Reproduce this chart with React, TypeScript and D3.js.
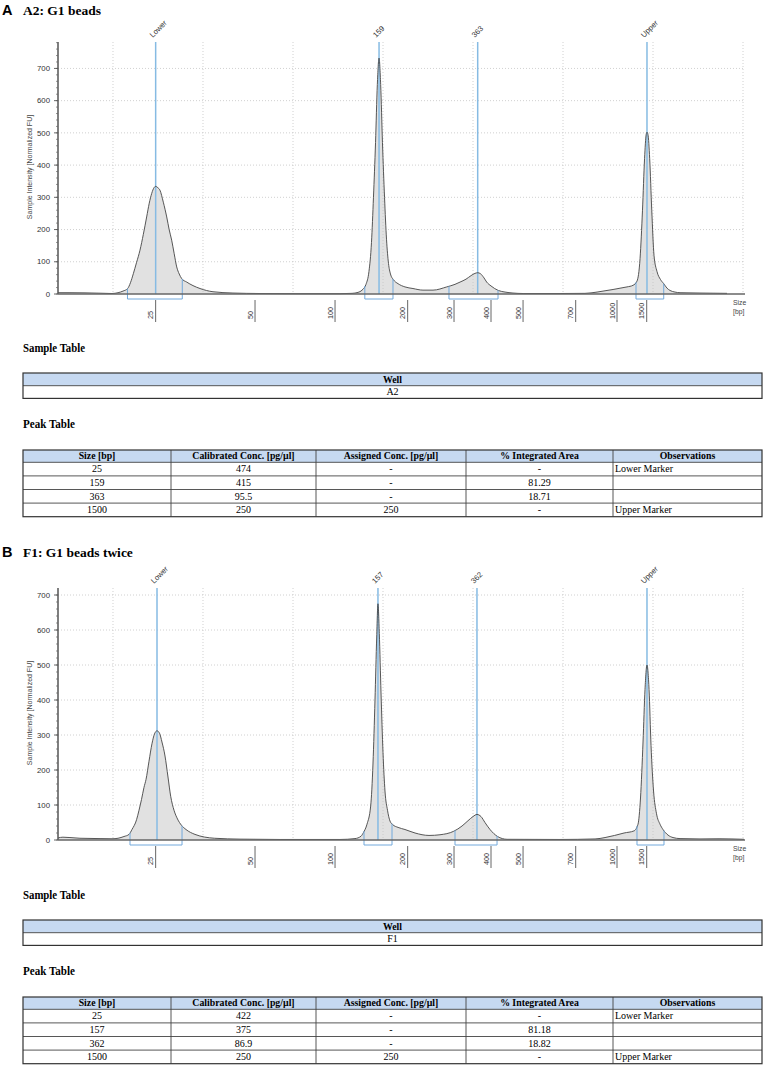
import React from 'react';
import * as d3 from 'd3';

type Pt = [number, number]; // [migration time (s), sample intensity (FU)]

// size ladder: bp and the migration time it sits at
const ladderBp = [25, 50, 100, 200, 300, 400, 500, 700, 1000, 1500];
const ladderTime = [24.74, 35.78, 44.67, 52.74, 57.89, 62.0, 65.56, 71.41, 76.0, 79.3];

const fuTicks = [0, 100, 200, 300, 400, 500, 600, 700];
const gridTimes = [20, 30, 40, 50, 60, 70, 80, 90];

// ---- A2: G1 beads ----
const traceA: Pt[] = [
  [13.89, 4], [15.22, 4], [16.89, 3.5], [18.56, 2.5], [19.89, 1.5], [20.56, 4], [21.11, 9],
  [21.63, 17], [21.94, 35], [22.26, 63], [22.61, 97], [23.0, 136], [23.37, 185], [23.74, 239],
  [24.03, 282], [24.3, 312], [24.56, 330], [24.74, 334], [24.98, 330], [25.22, 322], [25.59, 285],
  [25.97, 239], [26.24, 200], [26.52, 167], [26.8, 125], [27.08, 84], [27.36, 62], [27.63, 48],
  [28.19, 37], [28.89, 26], [29.67, 17], [31.11, 7], [33.33, 3], [36.33, 1.5], [40.78, 1],
  [45.22, 1], [46.56, 2], [47.22, 5], [47.67, 12], [48.11, 30], [48.44, 70], [48.72, 160],
  [48.94, 300], [49.17, 470], [49.37, 650], [49.56, 732], [49.74, 650], [49.94, 470], [50.17, 300],
  [50.39, 170], [50.61, 95], [50.83, 62], [51.14, 45], [51.67, 32], [52.44, 22], [53.33, 17],
  [54.44, 12], [55.56, 12], [57.08, 22], [58.0, 30], [58.56, 37], [59.22, 46], [59.78, 57],
  [60.22, 64], [60.52, 66], [60.83, 63], [61.22, 50], [61.52, 37], [62.0, 25], [62.81, 11],
  [63.56, 6], [64.44, 3], [65.56, 1.5], [69.67, 1.5], [72.44, 2], [73.78, 6], [74.67, 10],
  [75.56, 14], [76.33, 18], [77.11, 22], [77.78, 27], [78.22, 40], [78.56, 110], [78.83, 260],
  [79.06, 420], [79.24, 495], [79.33, 502], [79.44, 495], [79.63, 420], [79.86, 260], [80.11, 120],
  [80.44, 70], [80.83, 45], [81.19, 32], [81.56, 18], [81.89, 11], [82.44, 6], [83.0, 4],
  [85.22, 3], [88.22, 2],
];
const peakLabelsA = ['Lower', '159', '363', 'Upper'];
const peakTimesA = [24.74, 49.56, 60.52, 79.33];
const peakWindowsA: [number, number][] = [[21.61, 27.7], [47.98, 51.11], [57.33, 62.78], [78.11, 81.19]];
const wellA = ['A2'];
const sizeA = ['25', '159', '363', '1500'];
const calConcA = ['474', '415', '95.5', '250'];
const assignedA = ['-', '-', '-', '250'];
const areaA = ['-', '81.29', '18.71', '-'];
const obsA = ['Lower Marker', '', '', 'Upper Marker'];

// ---- F1: G1 beads twice ----
const traceB: Pt[] = [
  [13.89, 6], [14.44, 8], [15.22, 7], [16.33, 5], [18.56, 4], [19.89, 3.5], [20.56, 5], [21.22, 10],
  [21.78, 16], [22.11, 30], [22.62, 58], [22.89, 85], [23.17, 116], [23.44, 150], [23.67, 173],
  [24.0, 225], [24.33, 275], [24.61, 303], [24.89, 312], [25.17, 305], [25.44, 280], [25.78, 240],
  [26.11, 180], [26.41, 125], [26.78, 85], [27.17, 60], [27.61, 42], [28.11, 30], [29.11, 16],
  [31.29, 5], [34.11, 2.5], [38.56, 1.5], [45.22, 1.5], [46.89, 4], [47.56, 11], [47.82, 21],
  [48.22, 45], [48.63, 97], [48.89, 220], [49.11, 400], [49.3, 580], [49.44, 675], [49.59, 590],
  [49.78, 420], [50.0, 250], [50.22, 140], [50.5, 85], [50.78, 54], [51.08, 44], [51.67, 36],
  [52.44, 30], [53.56, 20], [55.11, 13], [56.33, 15], [57.86, 25], [58.78, 40], [59.44, 55],
  [60.0, 67], [60.44, 73], [60.89, 67], [61.33, 50], [61.89, 30], [62.73, 10], [63.78, 2],
  [69.67, 1.5], [73.56, 3], [74.67, 7], [75.73, 13], [76.78, 20], [77.89, 26], [78.33, 45],
  [78.61, 120], [78.89, 280], [79.11, 430], [79.33, 500], [79.56, 430], [79.78, 270], [80.06, 140],
  [80.39, 75], [80.78, 45], [81.11, 30], [81.67, 14], [82.22, 7], [83.0, 4], [85.22, 3],
  [87.44, 3.5], [90.11, 2],
];
const peakLabelsB = ['Lower', '157', '362', 'Upper'];
const peakTimesB = [24.89, 49.44, 60.44, 79.33];
const peakWindowsB: [number, number][] = [[21.89, 27.67], [47.89, 51.0], [58.0, 62.67], [78.22, 81.22]];
const wellB = ['F1'];
const sizeB = ['25', '157', '362', '1500'];
const calConcB = ['422', '375', '86.9', '250'];
const assignedB = ['-', '-', '-', '250'];
const areaB = ['-', '81.18', '18.82', '-'];
const obsB = ['Lower Marker', '', '', 'Upper Marker'];

const peakHeader = ['Size [bp]', 'Calibrated Conc. [pg/µl]', 'Assigned Conc. [pg/µl]', '% Integrated Area', 'Observations'];

const SANS = "'Liberation Sans', Arial, sans-serif";
const SERIF = "'Liberation Serif', 'Times New Roman', serif";
const PLOT_L = 58;
const PLOT_R = 745;
const PLOT_H = 252;
const X_DOMAIN: [number, number] = [13.89, 90.22];
const TABLE_L = 23;
const TABLE_R = 762;
const COLS = [23, 171, 316, 466, 613, 762];
const HEAD_FILL = '#c6d9f1';
const BLUE = '#86bbe3';

function Panel({ top, yMax, trace, labels, times, windows, letter, title, titleY }: any) {
  const base = top + PLOT_H;
  const x = d3.scaleLinear().domain(X_DOMAIN).range([PLOT_L, PLOT_R]);
  const y = d3.scaleLinear().domain([0, yMax]).range([base, top]);
  const area = d3.area<Pt>().x(d => x(d[0])).y0(base).y1(d => y(d[1])).curve(d3.curveMonotoneX);
  const line = area.lineY1();
  const bis = d3.bisector((d: Pt) => d[0]).right;
  const valueAt = (t: number) => {
    const i = bis(trace, t);
    const a = trace[Math.max(0, i - 1)];
    const b = trace[Math.min(trace.length - 1, i)];
    const f = b[0] === a[0] ? 0 : (t - a[0]) / (b[0] - a[0]);
    return a[1] + f * (b[1] - a[1]);
  };
  const minor = d3.range(0, yMax, 20);

  return (
    <g>
      <text x={2} y={titleY} fontFamily={SANS} fontWeight="bold" fontSize={14.5}>{letter}</text>
      <text x={23} y={titleY} fontFamily={SERIF} fontWeight="bold" fontSize={13.5}>{title}</text>

      {/* grid */}
      {fuTicks.filter(v => v > 0).map(v => (
        <line key={'h' + v} x1={PLOT_L} x2={PLOT_R} y1={y(v)} y2={y(v)} stroke="#c4c4c4" strokeWidth={0.8} strokeDasharray="1,2" />
      ))}

      <path d={area(trace) || ''} fill="#e1e1e1" />

      {gridTimes.map(t => (
        <line key={'v' + t} x1={x(t)} x2={x(t)} y1={top} y2={base} stroke="#c4c4c4" strokeWidth={0.8} strokeDasharray="1,2" />
      ))}

      {/* peak markers */}
      {times.map((t: number, i: number) => (
        <g key={'m' + i}>
          <line x1={x(t)} x2={x(t)} y1={top} y2={base} stroke={BLUE} strokeWidth={1.5} />
          <text transform={`translate(${x(t) - 3},${top - 4}) rotate(-45)`} fontFamily={SANS} fontSize={7.6} fill="#333">{labels[i]}</text>
        </g>
      ))}

      <path d={line(trace) || ''} fill="none" stroke="#444" strokeWidth={0.9} />

      {windows.map((w: [number, number], i: number) => (
        <path key={'w' + i}
          d={`M${x(w[0])},${y(valueAt(w[0]))}V${base + 5}H${x(w[1])}V${y(valueAt(w[1]))}`}
          fill="none" stroke="#72a9dc" strokeWidth={1} />
      ))}

      {/* y axis */}
      <line x1={PLOT_L} x2={PLOT_L} y1={top} y2={base} stroke="#555" strokeWidth={1.5} />
      {minor.map(v => (
        <line key={'n' + v} x1={PLOT_L - 2} x2={PLOT_L} y1={y(v)} y2={y(v)} stroke="#666" strokeWidth={0.7} />
      ))}
      {fuTicks.map(v => (
        <g key={'t' + v}>
          <line x1={PLOT_L - 4} x2={PLOT_L} y1={y(v)} y2={y(v)} stroke="#555" strokeWidth={0.9} />
          <text x={PLOT_L - 8} y={y(v) + 2.7} textAnchor="end" fontFamily={SANS} fontSize={7.8} fill="#333">{v}</text>
        </g>
      ))}
      <text transform={`translate(32,${top + 125}) rotate(-90)`} textAnchor="middle" fontFamily={SANS} fontSize={7} fill="#444">
        Sample Intensity [Normalized FU]
      </text>

      {/* x axis */}
      <line x1={PLOT_L} x2={PLOT_R} y1={base} y2={base} stroke="#666" strokeWidth={1.5} />
      {ladderTime.map((t, i) => (
        <g key={'l' + i}>
          <line x1={x(t)} x2={x(t)} y1={base + 6} y2={base + 28} stroke="#666" strokeWidth={1} />
          <text transform={`translate(${x(t) - 2.5},${base + 25}) rotate(-90)`} fontFamily={SANS} fontSize={7.3} fill="#333">{ladderBp[i]}</text>
        </g>
      ))}
      <text x={733} y={base + 11} fontFamily={SANS} fontSize={6.8} fill="#444">Size</text>
      <text x={733} y={base + 20} fontFamily={SANS} fontSize={6.8} fill="#444">[bp]</text>
    </g>
  );
}

function SampleTable({ titleY, top, wells }: any) {
  const hh = 12.7;
  const rh = 12.7;
  const w = TABLE_R - TABLE_L;
  return (
    <g fontFamily={SERIF}>
      <text x={TABLE_L} y={titleY} fontWeight="bold" fontSize={11.5} textLength={62} lengthAdjust="spacingAndGlyphs">Sample Table</text>
      <rect x={TABLE_L} y={top} width={w} height={hh} fill={HEAD_FILL} />
      <text x={(TABLE_L + TABLE_R) / 2} y={top + hh - 3} textAnchor="middle" fontWeight="bold" fontSize={9.8}>Well</text>
      {wells.map((v: string, i: number) => (
        <text key={i} x={(TABLE_L + TABLE_R) / 2} y={top + hh + rh * (i + 1) - 3} textAnchor="middle" fontSize={10}>{v}</text>
      ))}
      <line x1={TABLE_L} x2={TABLE_R} y1={top + hh} y2={top + hh} stroke="#444" strokeWidth={0.9} />
      <rect x={TABLE_L} y={top} width={w} height={hh + rh * wells.length} fill="none" stroke="#333" strokeWidth={1.2} />
    </g>
  );
}

function PeakTable({ titleY, top, cols }: any) {
  const hh = 12.3;
  const rh = 13.6;
  const n = cols[0].length;
  const w = TABLE_R - TABLE_L;
  const h = hh + rh * n;
  return (
    <g fontFamily={SERIF}>
      <text x={TABLE_L} y={titleY} fontWeight="bold" fontSize={11.5} textLength={52} lengthAdjust="spacingAndGlyphs">Peak Table</text>
      <rect x={TABLE_L} y={top} width={w} height={hh} fill={HEAD_FILL} />
      {peakHeader.map((hd, c) => (
        <text key={'h' + c} x={(COLS[c] + COLS[c + 1]) / 2} y={top + hh - 3} textAnchor="middle" fontWeight="bold" fontSize={9.8}>{hd}</text>
      ))}
      {d3.range(n).map(r => (
        <g key={'r' + r}>
          {cols.map((col: string[], c: number) => (
            c === 4
              ? <text key={c} x={COLS[c] + 2} y={top + hh + rh * (r + 1) - 3.5} fontSize={10}>{col[r]}</text>
              : <text key={c} x={(COLS[c] + COLS[c + 1]) / 2} y={top + hh + rh * (r + 1) - 3.5} textAnchor="middle" fontSize={10}>{col[r]}</text>
          ))}
          <line x1={TABLE_L} x2={TABLE_R} y1={top + hh + rh * r} y2={top + hh + rh * r} stroke="#444" strokeWidth={0.9} />
        </g>
      ))}
      {COLS.slice(1, -1).map((cx, i) => (
        <line key={'c' + i} x1={cx} x2={cx} y1={top} y2={top + h} stroke="#444" strokeWidth={0.9} />
      ))}
      <rect x={TABLE_L} y={top} width={w} height={h} fill="none" stroke="#333" strokeWidth={1.2} />
    </g>
  );
}

export default function App() {
  return (
    <div style={{ position: 'absolute', left: 0, top: 0 }}>
      <svg width={765} height={1066} viewBox="0 0 765 1066" style={{ display: 'block', background: '#fff' }}>
        <Panel top={42} yMax={782} trace={traceA} labels={peakLabelsA} times={peakTimesA}
          windows={peakWindowsA} letter="A" title="A2: G1 beads" titleY={15} />
        <SampleTable titleY={352} top={373} wells={wellA} />
        <PeakTable titleY={428} top={450} cols={[sizeA, calConcA, assignedA, areaA, obsA]} />

        <Panel top={588} yMax={720} trace={traceB} labels={peakLabelsB} times={peakTimesB}
          windows={peakWindowsB} letter="B" title="F1: G1 beads twice" titleY={556.5} />
        <SampleTable titleY={899} top={920} wells={wellB} />
        <PeakTable titleY={975} top={997} cols={[sizeB, calConcB, assignedB, areaB, obsB]} />
      </svg>
    </div>
  );
}
